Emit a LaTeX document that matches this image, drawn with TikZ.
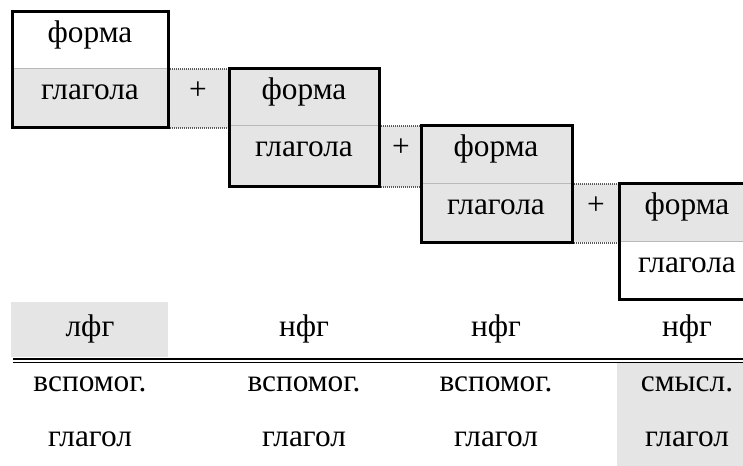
\documentclass[tikz,border=0pt]{standalone}
\usepackage{fontspec}
\setmainfont{Liberation Serif}
\newfontfamily\wordfont{Liberation Serif}
\definecolor{cellgray}{gray}{0.9}

\begin{document}
\begin{tikzpicture}[x=0.75pt, y=-0.75pt,
    word/.style={anchor=base, inner sep=0pt, font=\wordfont\fontsize{23.5}{28}\selectfont},
    frame/.style={draw=black, line width=2.25pt},
    rowline/.style={draw=gray!55, line width=0.75pt},
    plusline/.style={draw=gray!70!black, line width=0.9pt, dash pattern=on 0.75pt off 0.75pt}]
    \useasboundingbox (0,0) rectangle (743,466);

    \begin{scope}
        \clip (0,0) rectangle (743,466);
        \fill[cellgray] (12,69) rectangle (229,128);
        \fill[cellgray] (229,69) rectangle (379,187);
        \fill[cellgray] (379,126) rectangle (421,187);
        \fill[cellgray] (421,126) rectangle (572,243);
        \fill[cellgray] (572,184) rectangle (760,242);
        \fill[cellgray] (11,302) rectangle (168,357);
        \fill[cellgray] (617,363) rectangle (760,466);

        \draw[rowline] (12,69) -- (168,69);
        \draw[rowline] (229,126) -- (379,126);
        \draw[rowline] (421,184) -- (572,184);
        \draw[rowline] (619,242) -- (760,242);

        \draw[plusline] (168,69) -- (229,69) (168,128) -- (229,128);
        \draw[plusline] (379,126) -- (421,126) (379,187) -- (421,187);
        \draw[plusline] (572,184) -- (619,184) (572,243) -- (619,243);

        \draw[frame] (12,12) rectangle (168,128);
        \draw[frame] (229,69) rectangle (379,187);
        \draw[frame] (421,126) rectangle (572,243);
        \draw[frame] (619,184) rectangle (760,300);

        \draw[line width=1.5pt] (13,359.5) -- (743,359.5);
        \draw[line width=0.75pt] (13,362.5) -- (743,362.5);
    \end{scope}

    \node[word] (f1) at (90,43) {форма};
    \node[word] (g1) at (90,100) {глагола};
    \node[word] (p1) at (198,100) {+};
    \node[word] (f2) at (304,100) {форма};
    \node[word] (g2) at (304,157) {глагола};
    \node[word] (p2) at (401,157) {+};
    \node[word] (f3) at (496,157) {форма};
    \node[word] (g3) at (496,215) {глагола};
    \node[word] (p3) at (596,215) {+};
    \node[word] (f4) at (687,215) {форма};
    \node[word] (g4) at (687,273) {глагола};

    \node[word] (t1) at (90,337) {лфг};
    \node[word] (t2) at (304,337) {нфг};
    \node[word] (t3) at (496,337) {нфг};
    \node[word] (t4) at (687,337) {нфг};

    \node[word] (v1) at (90,392) {вспомог.};
    \node[word] (v2) at (304,392) {вспомог.};
    \node[word] (v3) at (496,392) {вспомог.};
    \node[word] (v4) at (687,392) {смысл.};
    \node[word] (l1) at (90,447) {глагол};
    \node[word] (l2) at (304,447) {глагол};
    \node[word] (l3) at (496,447) {глагол};
    \node[word] (l4) at (687,447) {глагол};
\end{tikzpicture}
\end{document}
